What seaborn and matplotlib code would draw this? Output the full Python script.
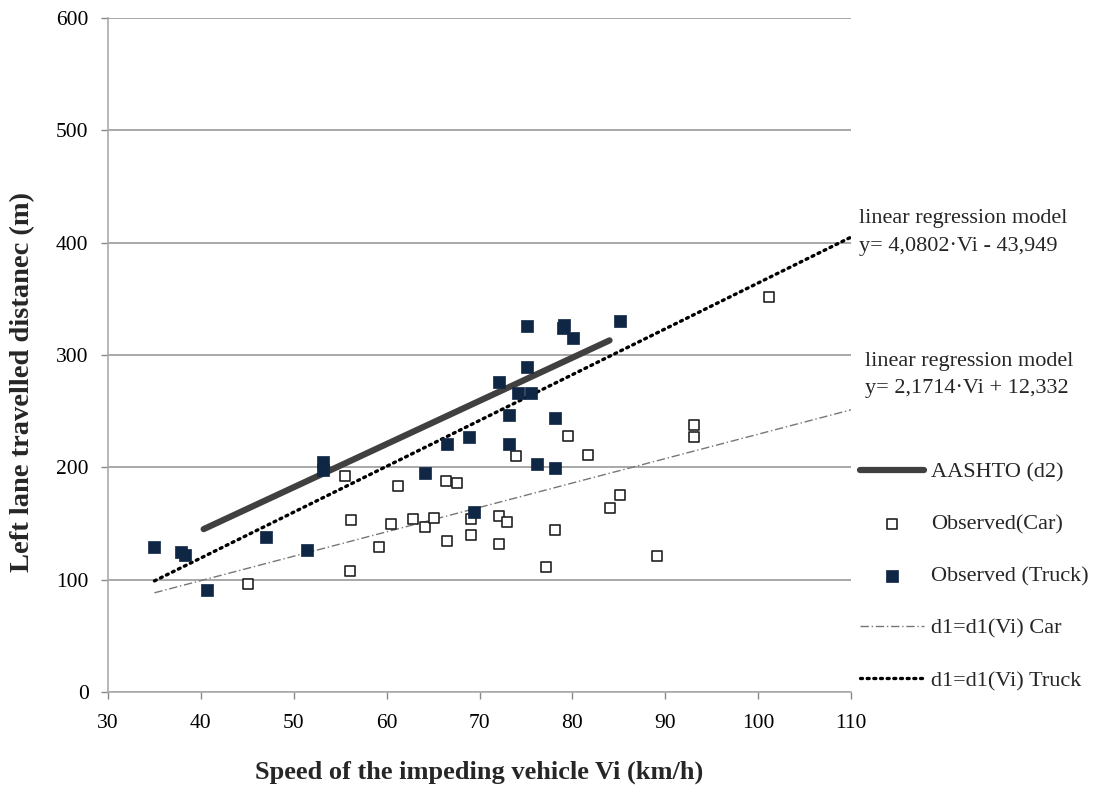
import numpy as np
import pandas as pd
import matplotlib
matplotlib.use("Agg")
import matplotlib.pyplot as plt
import seaborn as sns

# ---- data ----
car_speed = [45.1, 55.5, 56.1, 56.2, 59.2, 60.5, 61.2, 62.8, 64.1, 65.1, 66.4, 66.5,
             67.6, 69.1, 69.1, 72.1, 72.1, 73.0, 73.9, 77.2, 78.1, 79.5, 81.7, 84.0,
             85.1, 89.1, 93.1, 93.1, 101.2]
car_dist = [96, 192, 108, 153, 129, 150, 183, 154, 147, 155, 188, 134,
            186, 154, 140, 157, 132, 151, 210, 111, 144, 228, 211, 164,
            175, 121, 238, 227, 352]

truck_speed = [35.0, 37.9, 38.3, 40.7, 47.0, 51.4, 53.1, 53.1, 64.1, 66.5, 68.9, 69.4,
               72.1, 73.2, 73.2, 74.1, 75.5, 75.1, 75.1, 76.2, 78.1, 78.1, 79.1, 79.0,
               80.1, 85.1]
truck_dist = [129, 125, 122, 91, 138, 126, 205, 198, 195, 221, 227, 160,
              276, 247, 221, 266, 266, 289, 326, 203, 244, 199, 327, 324,
              315, 330]

aashto_speed = [40.3, 84.0]
aashto_dist = [145, 313]

car_fit_speed = [35, 110]
car_fit_dist = [88.3, 251.2]      # y = 2,1714·Vi + 12,332
truck_fit_speed = [35, 110]
truck_fit_dist = [98.9, 404.9]    # y = 4,0802·Vi - 43,949

x_ticks = [30, 40, 50, 60, 70, 80, 90, 100, 110]
y_ticks = [0, 100, 200, 300, 400, 500, 600]

labels = ["AASHTO (d2)", "Observed(Car)", "Observed (Truck)",
          "d1=d1(Vi) Car", "d1=d1(Vi) Truck"]
eq_truck = ["linear regression model", "y= 4,0802·Vi - 43,949"]
eq_car = ["linear regression model", "y= 2,1714·Vi + 12,332"]
x_title = "Speed of the impeding vehicle Vi (km/h)"
y_title = "Left lane travelled distanec (m)"

# ---- style ----
sns.set_theme(style="white")
plt.rcParams["font.family"] = ["Liberation Serif", "DejaVu Serif"]

W, H = 1099, 792
fig = plt.figure(figsize=(W / 100, H / 100), dpi=100)
ax = fig.add_axes([108 / W, 1 - 692 / H, (851 - 108) / W, (692 - 18) / H])

navy = "#0f2744"

sns.lineplot(x=aashto_speed, y=aashto_dist, ax=ax, color="#404040",
             linewidth=4.5, solid_capstyle="round", label=labels[0])
sns.scatterplot(x=car_speed, y=car_dist, ax=ax, marker="s", s=42,
                facecolor="white", edgecolor="#222222", linewidth=1.2,
                label=labels[1], zorder=4)
sns.scatterplot(x=truck_speed, y=truck_dist, ax=ax, marker="s", s=70,
                color=navy, edgecolor=navy, linewidth=0.5,
                label=labels[2], zorder=5)
sns.lineplot(x=car_fit_speed, y=car_fit_dist, ax=ax, color="#777777",
             linewidth=1.0, linestyle=(0, (6, 2, 1, 2)), label=labels[3])
sns.lineplot(x=truck_fit_speed, y=truck_fit_dist, ax=ax, color="black",
             linewidth=2.4, linestyle=(0, (0.6, 1.4)), dash_capstyle="round",
             label=labels[4])

ax.set_xlim(30, 110)
ax.set_ylim(0, 600)
ax.set_xticks(x_ticks)
ax.set_yticks(y_ticks)
ax.tick_params(axis="both", labelsize=15.5, colors="#888888", length=5,
               width=1, direction="out", labelcolor="black", bottom=True, left=True)
ax.tick_params(axis="x", pad=11)
ax.tick_params(axis="y", pad=9)
ax.yaxis.grid(True, color="#999999", linewidth=1.2)
ax.xaxis.grid(False)
for side in ["top", "right"]:
    ax.spines[side].set_visible(False)
for side in ["left", "bottom"]:
    ax.spines[side].set_color("#aaaaaa")
    ax.spines[side].set_linewidth(1.2)

ax.set_xlabel(x_title, fontsize=19, fontweight="bold", labelpad=20)
ax.set_ylabel(y_title, fontsize=20.5, fontweight="bold")
ax.yaxis.set_label_coords((35 - 108) / 743, (692 - 382) / 674)

handles, hl = ax.get_legend_handles_labels()
if ax.legend_:
    ax.legend_.remove()
fig.legend(handles, hl, loc="upper left",
           bbox_to_anchor=(860 / W, 1 - 462 / H), frameon=False,
           fontsize=16, handlelength=2.9, handletextpad=0.3,
           labelspacing=1.42, borderpad=0, borderaxespad=0, markerscale=1.0)

fig.text(859 / W, 1 - 219 / H, eq_truck[0], fontsize=16, va="center", ha="left")
fig.text(859 / W, 1 - 247 / H, eq_truck[1], fontsize=16, va="center", ha="left")
fig.text(865 / W, 1 - 361 / H, eq_car[0], fontsize=16, va="center", ha="left")
fig.text(865 / W, 1 - 389 / H, eq_car[1], fontsize=16, va="center", ha="left")

fig.savefig("out.png", dpi=100)
